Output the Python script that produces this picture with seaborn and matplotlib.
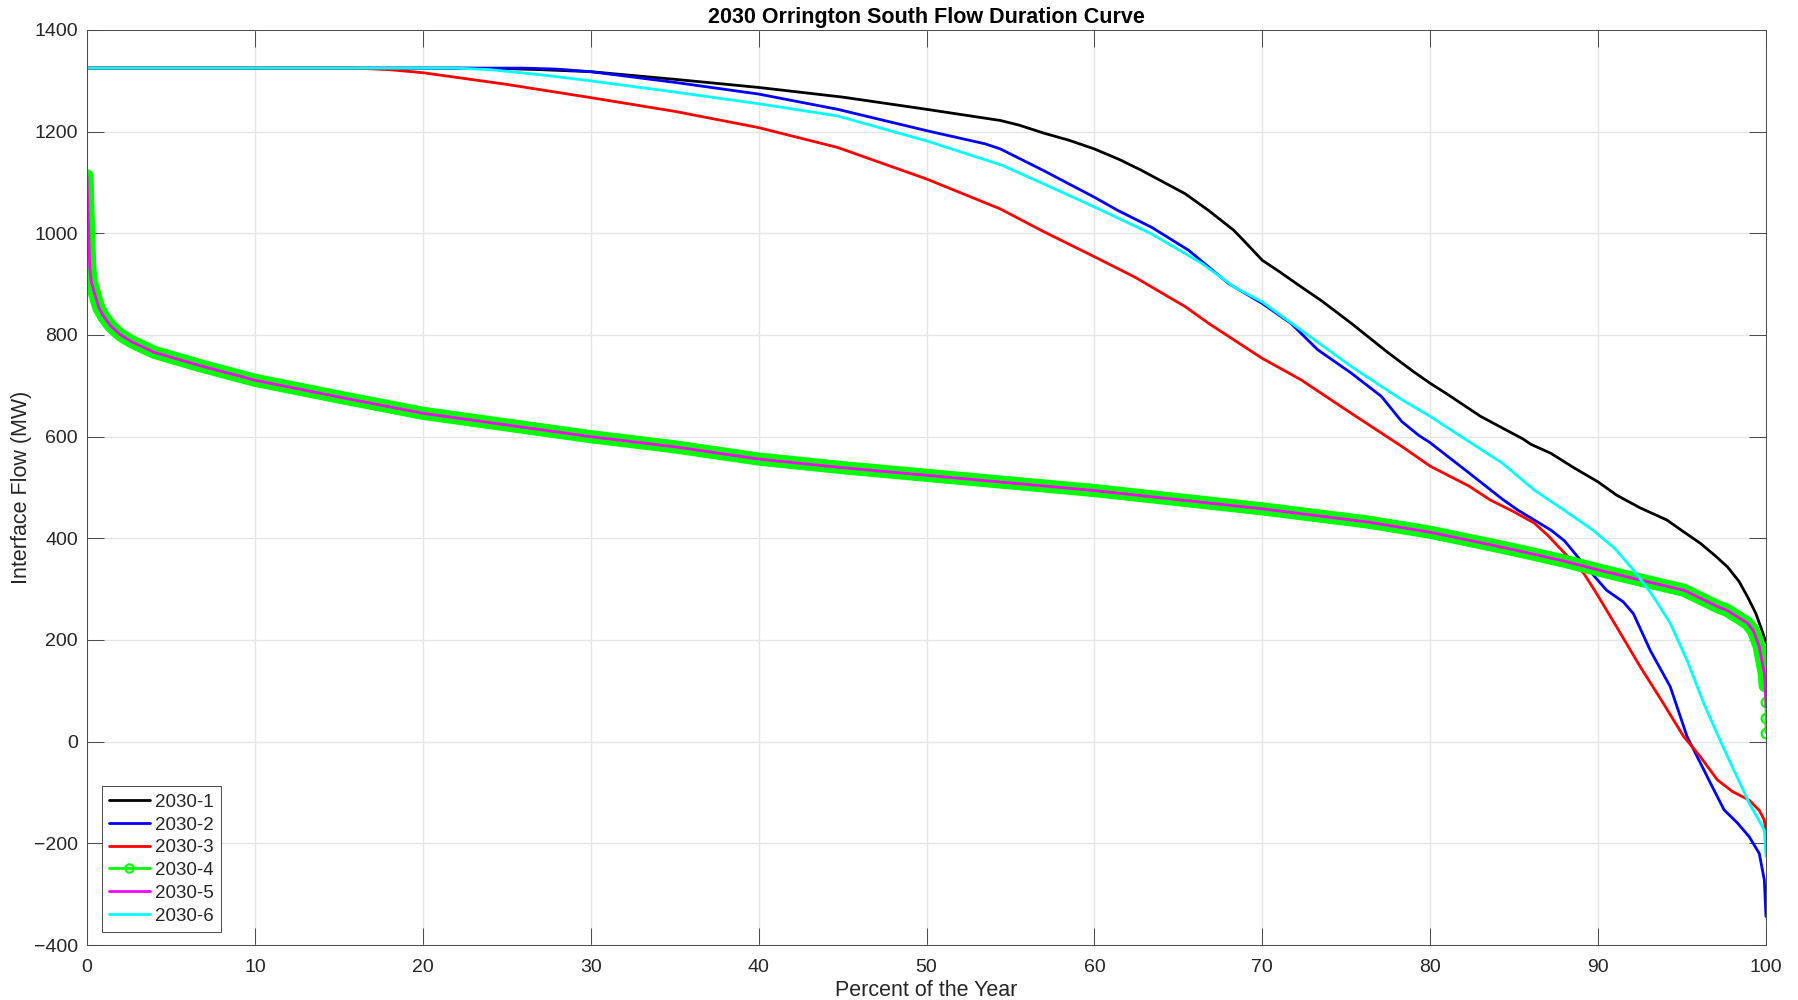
import matplotlib
matplotlib.use("Agg")
import matplotlib.pyplot as plt
from matplotlib.lines import Line2D
import pandas as pd
import seaborn as sns

# ---- Flow duration data (percent of year vs. interface flow in MW) ----
pct_1 = [0, 22, 25, 27, 30, 35, 40, 45, 50, 52, 54.4, 55.5, 57, 58.5, 60, 61.5,
         62.8, 65.4, 66.8, 68.3, 69, 70, 71, 72.3, 73.5, 75.3, 77.5, 79, 80, 81,
         82, 83, 84.3, 85.5, 86, 87.2, 88.5, 90, 91.1, 92.5, 94.1, 95, 96.1, 97,
         97.7, 98.4, 98.9, 99.4, 99.8, 100]
mw_1 = [1325, 1325, 1324, 1322, 1318, 1303, 1287, 1268, 1244, 1234, 1222, 1213,
        1197, 1183, 1166, 1145, 1124, 1078, 1045, 1006, 982, 947, 925, 895, 868,
        823, 765, 728, 705, 684, 662, 640, 617, 596, 585, 567, 540, 511, 485,
        460, 436, 415, 390, 365, 344, 315, 285, 252, 215, 195]

pct_2 = [0, 26, 28, 30, 35, 40, 44.7, 50, 53.5, 54.4, 57, 60, 61.4, 63.4, 65.6,
         68, 70, 71.7, 73.3, 75.3, 77.1, 78.3, 79.3, 80, 82.3, 84.3, 85.2, 87.2,
         88, 89.1, 90.5, 91.5, 92.1, 93.1, 94.3, 95.3, 96.7, 97.5, 98.3, 99,
         99.6, 99.9, 100]
mw_2 = [1325, 1325, 1323, 1318, 1297, 1274, 1244, 1202, 1176, 1166, 1123, 1071,
        1045, 1012, 967, 901, 862, 823, 771, 725, 679, 630, 603, 588, 529, 477,
        456, 416, 395, 351, 298, 275, 252, 180, 108, 10, -82, -134, -160, -187,
        -220, -272, -344]

pct_3 = [0, 16, 18, 20, 25, 30, 35, 40, 44.7, 50, 54.4, 57, 60, 62.4, 65.4, 66.8,
         70, 72.3, 75.3, 78.3, 80, 82.3, 83.6, 85, 86.2, 87, 88, 89.15, 89.9,
         91.1, 92.5, 93.8, 95.1, 96.1, 97.1, 98, 99, 99.6, 99.9, 100]
mw_3 = [1325, 1325, 1322, 1316, 1293, 1267, 1240, 1208, 1169, 1107, 1048, 1003,
        954, 914, 856, 823, 754, 712, 646, 581, 542, 503, 475, 452, 430, 406,
        371, 331, 292, 226, 148, 80, 10, -30, -75, -98, -115, -135, -154, -180]

# 2030-4 and 2030-5 share the same curve; they differ only at the very end
pct_45 = [0, 0.05, 0.1, 0.16, 0.25, 0.4, 0.7, 1.0, 1.4, 2.0, 2.7, 4.0, 6.7, 10,
          15, 20, 25, 30, 35, 40, 45, 50, 55, 60, 65, 70, 76.3, 80, 83.5, 85.2,
          88, 90, 92, 95.1, 97.1, 97.7, 98.9, 99.25, 99.6, 99.75, 99.9, 99.95]
mw_45 = [1113, 1050, 1000, 933, 905, 887, 854, 836, 818, 800, 786, 766, 740, 711,
         678, 646, 623, 600, 580, 556, 539, 524, 509, 494, 476, 458, 432, 412,
         388, 376, 355, 338, 322, 298, 266, 258, 233, 218, 187, 160, 134, 110]
tail_4 = [78, 47, 18]
tail_5 = [69]

pct_6 = [0, 22, 24, 27, 30, 35, 40, 44.7, 50, 54.5, 57, 60, 63.4, 66.4, 68.3, 70,
         72.3, 75.3, 78.3, 80, 82, 84.3, 86.2, 88, 89.7, 91, 92.1, 93.2, 94.3,
         95.3, 96.3, 97.1, 97.9, 98.5, 99, 99.5, 99.9, 100]
mw_6 = [1325, 1325, 1322, 1312, 1300, 1278, 1255, 1231, 1182, 1134, 1097, 1052,
        999, 941, 895, 865, 810, 738, 673, 640, 597, 548, 495, 455, 416, 380,
        338, 290, 233, 160, 75, 15, -43, -85, -121, -150, -174, -226]

series_names = ["2030-1", "2030-2", "2030-3", "2030-4", "2030-5", "2030-6"]
series_colors = ["#000000", "#0000ff", "#ff0000", "#00ff00", "#ff00ff", "#00ffff"]

x_ticks = list(range(0, 101, 10))
y_ticks = list(range(-400, 1401, 200))

# ---- Style ----
sns.set_theme(style="white")
plt.rcParams["font.family"] = ["Liberation Sans", "DejaVu Sans"]
axis_grey = "#262626"

fig = plt.figure(figsize=(17.98, 10.0), dpi=100)
ax = fig.add_axes([0.0484, 0.055, 0.9338, 0.915])

lw = 2.0


def draw(x, y, color, **kw):
    df = pd.DataFrame({"pct": x, "mw": y})
    sns.lineplot(data=df, x="pct", y="mw", color=color, estimator=None,
                 sort=False, ax=ax, legend=False, **kw)


draw(pct_1, mw_1, series_colors[0], linewidth=lw)
draw(pct_2, mw_2, series_colors[1], linewidth=lw)
draw(pct_3, mw_3, series_colors[2], linewidth=lw)

# 2030-4: densely marked series -> wide green band, then discrete markers at the tail
draw(pct_45, mw_45, series_colors[3], linewidth=9.5, solid_capstyle="round")
draw([pct_45[-1]] + [100] * len(tail_4), [mw_45[-1]] + tail_4, series_colors[3],
     linewidth=lw, marker="o", markersize=7, markerfacecolor="none",
     markeredgecolor=series_colors[3], markeredgewidth=1.6)

draw(pct_45 + [100] * len(tail_5), mw_45 + tail_5, series_colors[4], linewidth=lw)
draw(pct_6, mw_6, series_colors[5], linewidth=lw)

# ---- Axes formatting ----
ax.set_xlim(0, 100)
ax.set_ylim(-400, 1400)
ax.set_xticks(x_ticks)
ax.set_yticks(y_ticks)
ax.grid(True, color="#e6e6e6", linewidth=1.0)
ax.set_axisbelow(True)
for side in ["left", "right", "top", "bottom"]:
    ax.spines[side].set_visible(True)
    ax.spines[side].set_color("#4a4a4a")
    ax.spines[side].set_linewidth(0.7)
ax.tick_params(axis="both", which="major", direction="in", length=12,
               width=0.7, color="#4a4a4a", labelcolor=axis_grey, labelsize=14,
               top=True, right=True, left=True, bottom=True)
ax.tick_params(axis="y", pad=6.5)
ax.tick_params(axis="x", pad=10)

ax.set_xlabel("Percent of the Year", fontsize=15.5, color=axis_grey, labelpad=3)
ax.set_ylabel("Interface Flow (MW)", fontsize=15.5, color=axis_grey, labelpad=1)
ax.set_title("2030 Orrington South Flow Duration Curve", fontsize=15.5,
             fontweight="bold", color="black", pad=5)

handles = []
for name, col in zip(series_names, series_colors):
    if name == "2030-4":
        handles.append(Line2D([], [], color=col, linewidth=lw, marker="o",
                              markersize=6, markerfacecolor="none",
                              markeredgewidth=1.5))
    else:
        handles.append(Line2D([], [], color=col, linewidth=lw))
leg = ax.legend(handles, series_names, loc="lower left",
                bbox_to_anchor=(0.0088, 0.0142), borderaxespad=0,
                fontsize=13.5, frameon=True, fancybox=False, framealpha=1,
                edgecolor="#4a4a4a", handlelength=2.15, handletextpad=0.3,
                labelspacing=0.3, borderpad=0.4)
leg.get_frame().set_linewidth(0.7)

fig.savefig("out.png", dpi=100)
